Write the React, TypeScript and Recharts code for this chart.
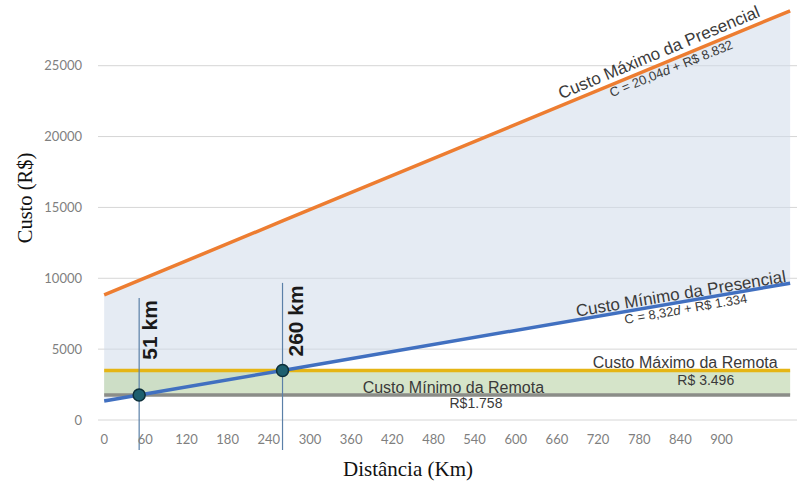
import {
  ComposedChart, Area, Line, XAxis, YAxis, CartesianGrid,
  ReferenceLine, ReferenceArea, ReferenceDot, Customized,
} from 'recharts'

// distância (km) e custos
const distancias = [0, 51, 260, 1000]
const custoMaxPresencial = [8832, 9854, 14042, 28872]
const custoMinPresencial = [1334, 1758, 3497, 9654]
const custoMaxRemota = 3496
const custoMinRemota = 1758

// pontos de equilíbrio
const equilibrioKm = [51, 260]
const equilibrioCusto = [1758, 3496]
const equilibrioTopo = [8616, 9675]
const equilibrioBase = -2119

const xTicks = [0, 60, 120, 180, 240, 300, 360, 420, 480, 540, 600, 660, 720, 780, 840, 900]
const yTicks = [0, 5000, 10000, 15000, 20000, 25000]

const data = distancias.map((d, i) => ({
  d,
  max: custoMaxPresencial[i],
  min: custoMinPresencial[i],
  faixa: [custoMinPresencial[i], custoMaxPresencial[i]],
}))

type Nota = {
  d: number
  c: number
  texto: string
  eq?: [string, string]
  angulo: number
  tamanho: number
  negrito?: boolean
}

// textos sobre as linhas (âncora em unidades do gráfico)
const notas: Nota[] = [
  { d: 812, c: 25565, texto: 'Custo Máximo da Presencial', angulo: -22.6, tamanho: 17 },
  { d: 829, c: 24505, texto: '', eq: ['C = 20,04', ' + R$ 8.832'], angulo: -22, tamanho: 13 },
  { d: 842, c: 8517, texto: 'Custo Mínimo da Presencial', angulo: -9.4, tamanho: 17 },
  { d: 849, c: 7535, texto: '', eq: ['C = 8,32', ' + R$ 1.334'], angulo: -10, tamanho: 13 },
  { d: 847, c: 3651, texto: 'Custo Máximo da Remota', angulo: 0, tamanho: 16 },
  { d: 877, c: 2472, texto: 'R$ 3.496', angulo: 0, tamanho: 14 },
  { d: 509, c: 1928, texto: 'Custo Mínimo da Remota', angulo: 0, tamanho: 16 },
  { d: 542, c: 870, texto: 'R$1.758', angulo: 0, tamanho: 14 },
  { d: 77, c: 6356, texto: '51 km', angulo: -90, tamanho: 21, negrito: true },
  { d: 290, c: 6992, texto: '260 km', angulo: -90, tamanho: 21, negrito: true },
]

const fonteSans = '"Liberation Sans", Arial, sans-serif'
const fonteSerif = '"Liberation Serif", "Times New Roman", serif'

function renderNota(n: Nota) {
  return (p: { cx?: number; cy?: number }) => {
    const x = p.cx ?? 0
    const y = p.cy ?? 0
    return (
      <text
        x={x}
        y={y}
        textAnchor="middle"
        transform={n.angulo ? `rotate(${n.angulo} ${x} ${y})` : undefined}
        fontFamily={fonteSans}
        fontSize={n.tamanho}
        fontWeight={n.negrito ? 700 : 400}
        fill={n.negrito ? '#1a1a1a' : '#3a3a3a'}
      >
        {n.eq ? (
          <>
            {n.eq[0]}
            <tspan fontStyle="italic">d</tspan>
            {n.eq[1]}
          </>
        ) : n.texto}
      </text>
    )
  }
}

function TitulosEixos() {
  return (
    <g fontFamily={fonteSerif} fill="#111">
      <text x={408} y={476} textAnchor="middle" fontSize={21}>Distância (Km)</text>
      <text x={32} y={198} textAnchor="middle" fontSize={20.5} transform="rotate(-90 32 198)">Custo (R$)</text>
    </g>
  )
}

export default function App() {
  return (
    <div style={{ position: 'absolute', left: 0, top: 0, width: 801, height: 488, background: '#fff' }}>
      <ComposedChart
        width={801}
        height={488}
        data={data}
        margin={{ top: 9, right: 4, bottom: 38, left: 0 }}
      >
        <CartesianGrid vertical={false} horizontalValues={yTicks} stroke="#d6d6d6" strokeWidth={1} />
        <XAxis
          type="number"
          dataKey="d"
          domain={[-9, 1010]}
          ticks={xTicks}
          allowDataOverflow
          axisLine={false}
          tickLine={false}
          tickMargin={9}
          height={30}
          tick={{ fontSize: 13, fill: '#7f7f7f', fontFamily: 'Lato, sans-serif' }}
        />
        <YAxis
          type="number"
          domain={[0, 29000]}
          ticks={yTicks}
          allowDataOverflow
          axisLine={false}
          tickLine={false}
          tickMargin={10}
          width={98}
          tick={{ fontSize: 13, fill: '#7f7f7f', fontFamily: 'Lato, sans-serif' }}
        />
        <Area
          dataKey="faixa"
          type="linear"
          stroke="none"
          fill="#cfdaea"
          fillOpacity={0.55}
          isAnimationActive={false}
        />
        <ReferenceArea
          x1={0}
          x2={1000}
          y1={custoMinRemota}
          y2={custoMaxRemota}
          fill="#c3d8b2"
          fillOpacity={0.7}
          stroke="none"
        />
        <ReferenceLine
          segment={[{ x: 0, y: custoMinRemota }, { x: 1000, y: custoMinRemota }]}
          stroke="#8b8d88"
          strokeWidth={3.5}
        />
        <ReferenceLine
          segment={[{ x: 0, y: custoMaxRemota }, { x: 1000, y: custoMaxRemota }]}
          stroke="#e5b514"
          strokeWidth={3.5}
        />
        <Line
          dataKey="max"
          type="linear"
          stroke="#ed7d31"
          strokeWidth={3.5}
          dot={false}
          isAnimationActive={false}
        />
        <Line
          dataKey="min"
          type="linear"
          stroke="#4170c0"
          strokeWidth={3.5}
          dot={false}
          isAnimationActive={false}
        />
        {equilibrioKm.map((km, i) => (
          <ReferenceLine
            key={`v${km}`}
            segment={[{ x: km, y: equilibrioTopo[i] }, { x: km, y: equilibrioBase }]}
            stroke="#5b80a8"
            strokeWidth={1.2}
            ifOverflow="visible"
          />
        ))}
        {equilibrioKm.map((km, i) => (
          <ReferenceDot
            key={`p${km}`}
            x={km}
            y={equilibrioCusto[i]}
            r={6}
            fill="#1d5f6e"
            stroke="#0d2f3a"
            strokeWidth={1.5}
          />
        ))}
        {notas.map((n, i) => (
          <ReferenceDot key={`n${i}`} x={n.d} y={n.c} r={1} shape={renderNota(n)} />
        ))}
        <Customized component={TitulosEixos} />
      </ComposedChart>
    </div>
  )
}
